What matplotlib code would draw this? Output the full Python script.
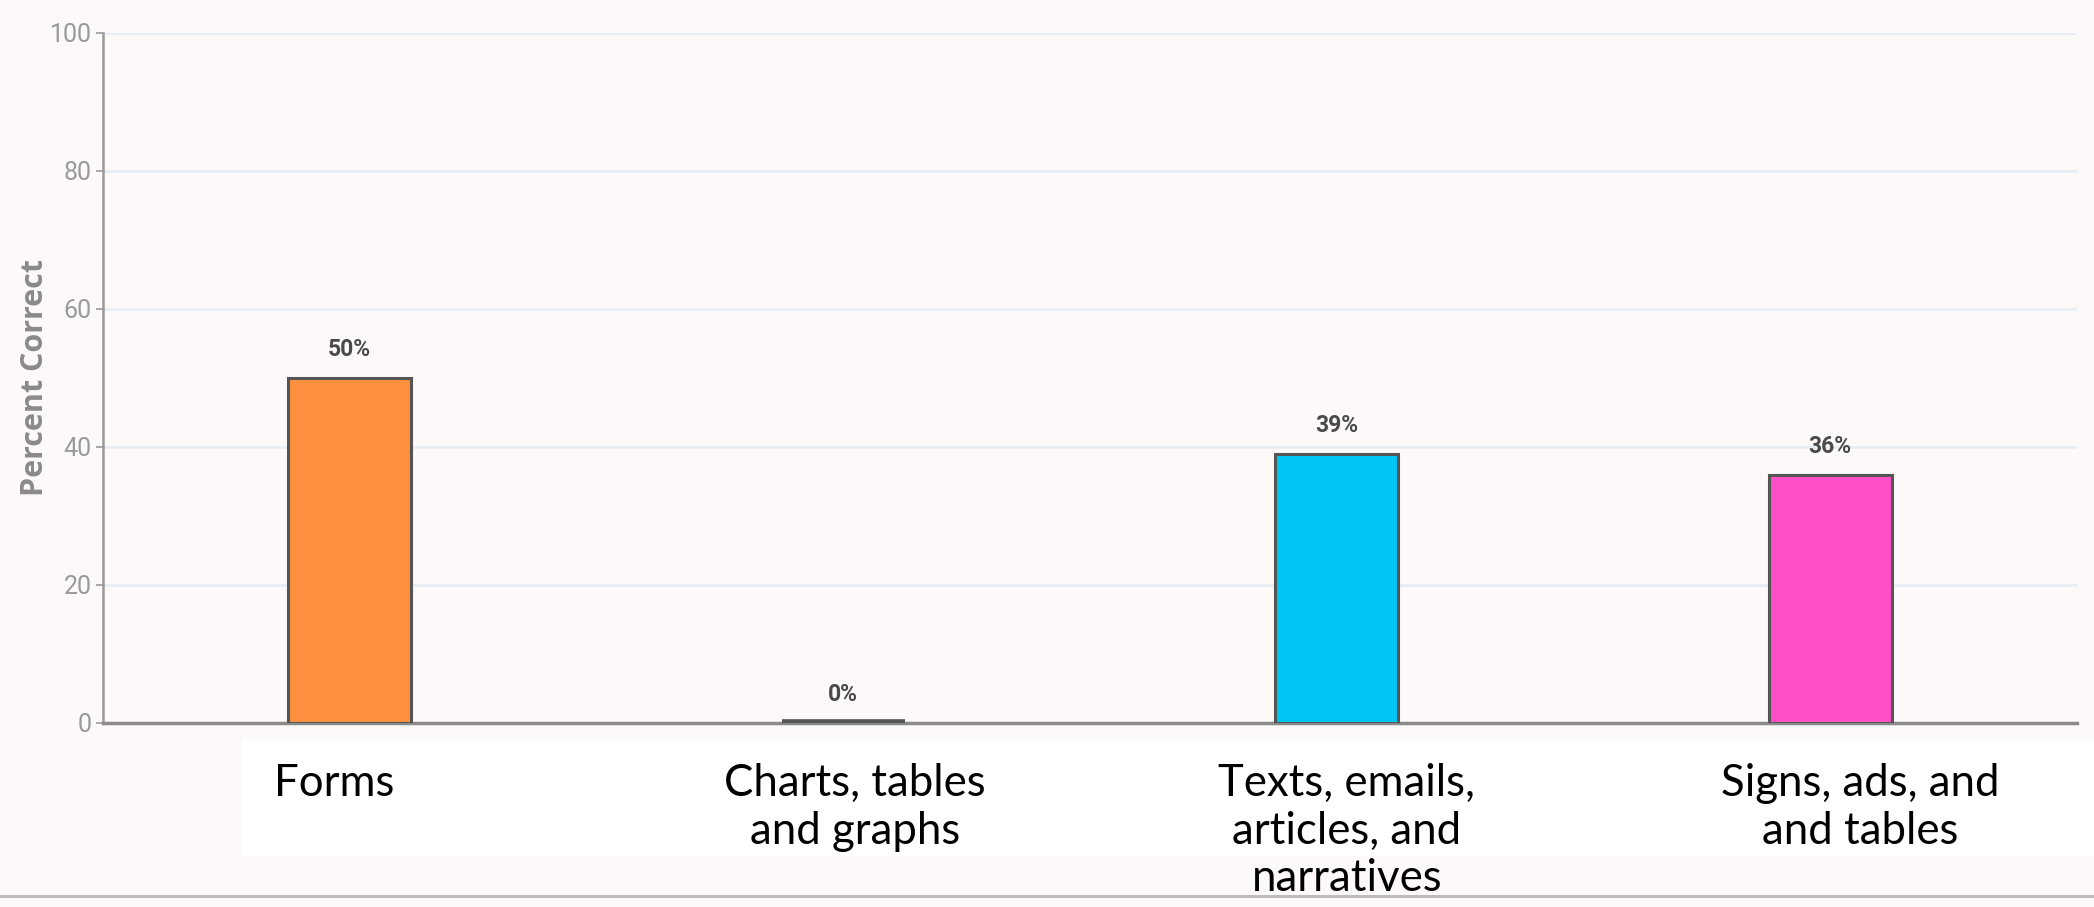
import matplotlib
matplotlib.use("Agg")
import matplotlib.pyplot as plt
from matplotlib.patches import Rectangle
from matplotlib.lines import Line2D
from matplotlib.transforms import ScaledTranslation

# data
categories = [
    "Forms",
    "Charts, tables\nand graphs",
    "Texts, emails,\narticles, and\nnarratives",
    "Signs, ads, and\nand tables",
]
percent_correct = [50, 0, 39, 36]
value_labels = ["50%", "0%", "39%", "36%"]
bar_colors = ["#fe9040", "#555555", "#00c5f5", "#ff50c8"]
y_ticks = [0, 20, 40, 60, 80, 100]

BG = "#fdf9f8"
W, H = 2094, 907

fig = plt.figure(figsize=(W / 100, H / 100), dpi=100, facecolor=BG)
ax = fig.add_axes([103 / W, 1 - 723 / H, 1974 / W, 690 / H])
ax.set_facecolor(BG)

x = list(range(len(categories)))
# the 0% bar shows as a thick dark stub in the original
edge_widths = [2.2 if v > 0 else 5.5 for v in percent_correct]
ax.bar(x, percent_correct, width=0.25, color=bar_colors,
       edgecolor="#555555", linewidth=edge_widths, zorder=3)

for xi, v, lab in zip(x, percent_correct, value_labels):
    ax.annotate(lab, (xi, v), xytext=(0, 12), textcoords="offset points",
                ha="center", va="bottom", fontsize=16.5, fontweight="bold",
                color="#4a4a4a", family=["Roboto", "DejaVu Sans"])

ax.set_xlim(-0.5, len(categories) - 0.5)
ax.set_ylim(0, 100)
ax.set_yticks(y_ticks)
ax.grid(axis="y", color="#e8edf5", linewidth=2, zorder=0)
ax.set_axisbelow(True)

for side in ["top", "right"]:
    ax.spines[side].set_visible(False)
ax.spines["left"].set_color("#9a9a9a")
ax.spines["left"].set_linewidth(1.8)
ax.spines["bottom"].set_color("#8a8a8a")
ax.spines["bottom"].set_linewidth(2.5)

ax.tick_params(axis="y", length=5, width=1.2, color="#9a9a9a", pad=3,
               labelsize=18, labelcolor="#9a9a9a")
for t in ax.get_yticklabels():
    t.set_family(["Roboto", "DejaVu Sans"])

ax.set_xticks(x)
ax.set_xticklabels(categories, fontsize=31.5, family=["Lato", "DejaVu Sans"],
                   color="black", linespacing=1.2, multialignment="center")
ax.tick_params(axis="x", length=0, pad=29)
# the text boxes in the original sit slightly off the bar centres
label_shift_px = [-16, 12, 10, 30]
for t, dx in zip(ax.get_xticklabels(), label_shift_px):
    t.set_transform(t.get_transform() + ScaledTranslation(dx / 100, 0, fig.dpi_scale_trans))

ax.set_ylabel("Percent Correct", fontsize=22, fontweight="bold",
              color="#8a8a8a", family=["Open Sans", "DejaVu Sans"])
ax.yaxis.set_label_coords(-0.027, 0.5)

# white box behind the category labels, and bottom rule
fig.patches.append(Rectangle((242 / W, 1 - 856 / H), 1 - 242 / W, 117 / H,
                             transform=fig.transFigure, facecolor="white",
                             edgecolor="none", zorder=-1))
fig.lines.append(Line2D([0, 1], [1 - 896 / H, 1 - 896 / H],
                        transform=fig.transFigure, color="#bdbdbd",
                        linewidth=2.2, zorder=5))

fig.savefig("out.png", dpi=100, facecolor=BG)
